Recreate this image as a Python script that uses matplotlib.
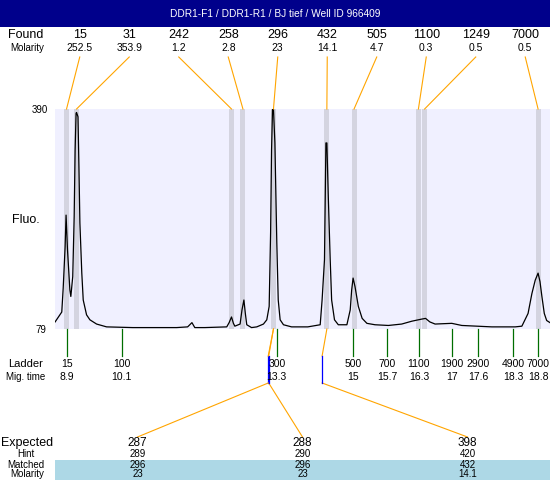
import matplotlib
matplotlib.use("Agg")
import matplotlib.pyplot as plt
from matplotlib.patches import Rectangle

plt.rcParams['font.family'] = ['Liberation Sans', 'DejaVu Sans']

# ---------------- data ----------------
title = "DDR1-F1 / DDR1-R1 / BJ tief / Well ID 966409"

found_size = [15, 31, 242, 258, 296, 432, 505, 1100, 1249, 7000]
found_molarity = [252.5, 353.9, 1.2, 2.8, 23, 14.1, 4.7, 0.3, 0.5, 0.5]
found_time = [8.91, 9.12, 12.37, 12.61, 13.25, 14.37, 14.94, 16.29, 16.42, 18.80]

ladder_size = [15, 100, 300, 500, 700, 1100, 1900, 2900, 4900, 7000]
ladder_time = [8.91, 10.07, 13.32, 14.92, 15.63, 16.30, 17.00, 17.54, 18.28, 18.80]
ladder_time_label = ["8.9", "10.1", "13.3", "15", "15.7", "16.3", "17", "17.6", "18.3", "18.8"]

expected_size = [287, 288, 398]
expected_hint = [289, 290, 420]
expected_matched = [296, 296, 432]
expected_molarity = [23, 23, 14.1]
expected_time = [13.14, 13.15, 14.27]

mig_time = [8.67, 8.77, 8.81, 8.84, 8.88, 8.90, 8.93, 8.98, 9.00, 9.04, 9.07, 9.09,
            9.11, 9.12, 9.15, 9.17, 9.19, 9.23, 9.26, 9.33, 9.40, 9.54, 9.75, 10.30,
            11.22, 11.45, 11.54, 11.60, 11.81, 12.27, 12.32, 12.37, 12.41, 12.44,
            12.55, 12.59, 12.63, 12.66, 12.69, 12.79, 12.90, 13.04, 13.11, 13.16,
            13.19, 13.21, 13.23, 13.25, 13.28, 13.32, 13.35, 13.39, 13.46, 13.63,
            13.97, 14.23, 14.27, 14.32, 14.35, 14.37, 14.40, 14.44, 14.47, 14.53,
            14.61, 14.79, 14.86, 14.89, 14.92, 14.96, 15.03, 15.11, 15.21, 15.38,
            15.66, 15.94, 16.15, 16.36, 16.44, 16.53, 16.64, 16.99, 17.20, 17.83,
            18.32, 18.46, 18.59, 18.67, 18.74, 18.80, 18.84, 18.88, 18.93, 18.98, 19.05]
fluo = [89, 99, 103, 137, 195, 240, 191, 134, 125, 153, 238, 332,
        384, 385, 379, 308, 229, 158, 120, 99, 92, 86, 82, 81,
        81, 82, 88, 81, 81, 82, 88, 96, 87, 83,
        86, 106, 120, 101, 85, 81, 82, 86, 92, 111,
        215, 332, 389, 390, 342, 201, 120, 92, 85, 82,
        82, 85, 120, 177, 342, 342, 266, 177, 120, 92,
        85, 85, 106, 134, 151, 139, 111, 94, 87, 85,
        84, 86, 90, 93, 94, 89, 86, 87, 84, 82,
        82, 83, 101, 129, 148, 158, 146, 125, 101, 91, 88]

# ---------------- layout ----------------
W, H = 550, 480
fig = plt.figure(figsize=(W / 100, H / 100), dpi=100)
PL, PT, PR, PB = 55, 109, 550, 329

ax = fig.add_axes([PL / W, 1 - PB / H, (PR - PL) / W, (PB - PT) / H])
ax.set_facecolor('#F0F0FF')
ax.set_xlim(8.668, 19.05)
ax.set_ylim(79, 390)
for s in ax.spines.values():
    s.set_visible(False)
ax.set_xticks([])
ax.set_yticks([])

band_w = 0.105
for t in found_time:
    ax.axvspan(t - band_w / 2, t + band_w / 2, color='#D4D4E0', lw=0, zorder=1)
ax.plot(mig_time, fluo, color='black', lw=0.9, zorder=3)

ov = fig.add_axes([0, 0, 1, 1], zorder=5)
ov.set_xlim(0, W)
ov.set_ylim(H, 0)
ov.axis('off')


def xpix(t):
    return ax.transData.transform((t, 79))[0]


ORANGE = '#FFA500'
GREEN = '#006E00'
BLUE = '#0000FF'

# title bar
ov.add_patch(Rectangle((0, 0), W, 27, color='#00008B', lw=0))
ov.text(W / 2, 14, title, color='white', fontsize=7.3, ha='center', va='center')

# found rows
ov.text(26, 35, "Found", fontsize=9, ha='center', va='center')
ov.text(27, 48, "Molarity", fontsize=7, ha='center', va='center')
n = len(found_size)
for i, (sz, mol, t) in enumerate(zip(found_size, found_molarity, found_time)):
    cx = PL + (i + 0.5) * (PR - PL) / n
    ov.text(cx, 35, f"{sz}", fontsize=9, ha='center', va='center')
    ov.text(cx, 48, f"{mol:g}", fontsize=7.5, ha='center', va='center')
    ov.plot([cx, xpix(t)], [57, PT], color=ORANGE, lw=0.8)

# y labels
ov.text(48, 110, "390", fontsize=7, ha='right', va='center')
ov.text(46, 330, "79", fontsize=7, ha='right', va='center')
ov.text(12, 220, "Fluo.", fontsize=9, ha='left', va='center')

# ladder
ov.text(26, 364, "Ladder", fontsize=8, ha='center', va='center')
ov.text(26, 377, "Mig. time", fontsize=7, ha='center', va='center')
for sz, t, lab in zip(ladder_size, ladder_time, ladder_time_label):
    x = xpix(t)
    ov.plot([x, x], [PB, 356], color=GREEN, lw=0.9)
    ov.text(x, 364, f"{sz}", fontsize=7.5, ha='center', va='center')
    ov.text(x, 377, lab, fontsize=7.5, ha='center', va='center')

# expected / matched
ov.add_patch(Rectangle((PL, 460), PR - PL, 20, color='#ADD8E6', lw=0))
ov.text(27, 443, "Expected", fontsize=9, ha='center', va='center')
ov.text(26, 454, "Hint", fontsize=7, ha='center', va='center')
ov.text(26, 465, "Matched", fontsize=7, ha='center', va='center')
ov.text(27, 474, "Molarity", fontsize=7, ha='center', va='center')
m = len(expected_size)
for k, (es, eh, em, emol, et) in enumerate(zip(expected_size, expected_hint,
                                               expected_matched, expected_molarity,
                                               expected_time)):
    cx = PL + (k + 0.5) * (PR - PL) / m
    j = found_size.index(em)
    xe = xpix(et)
    ov.plot([xpix(found_time[j]), xe], [PB, 356], color=ORANGE, lw=0.8)
    ov.plot([xe, cx], [383, 437], color=ORANGE, lw=0.8)
    ov.plot([xe, xe], [356, 383], color=BLUE, lw=0.9)
    ov.text(cx, 443, f"{es}", fontsize=8.5, ha='center', va='center')
    ov.text(cx, 454, f"{eh}", fontsize=7, ha='center', va='center')
    ov.text(cx, 465, f"{em}", fontsize=7, ha='center', va='center')
    ov.text(cx, 474, f"{emol:g}", fontsize=7, ha='center', va='center')

fig.savefig('out.png', dpi=100)
